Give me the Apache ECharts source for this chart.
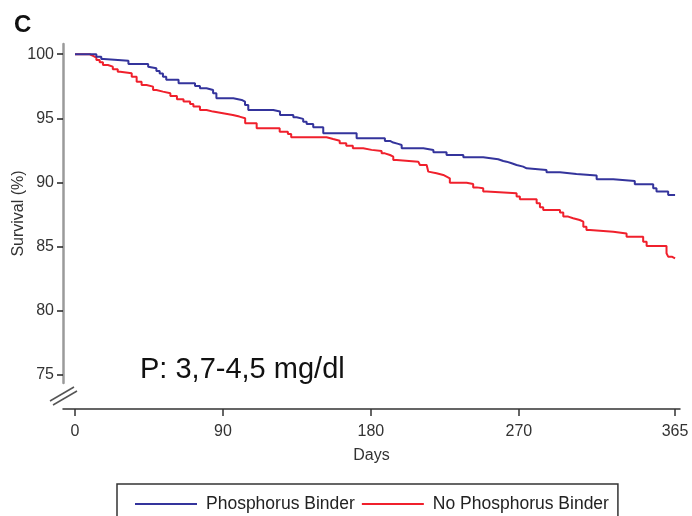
<!DOCTYPE html>
<html>
<head>
<meta charset="utf-8">
<script src="https://cdn.jsdelivr.net/npm/echarts@6/dist/echarts.min.js"></script>
<style>html,body{margin:0;padding:0;background:#fff}#c{width:692px;height:516px}</style>
</head>
<body>
<div id="c"></div>
<script>
var FONT = '"Liberation Sans", Arial, sans-serif';
var xTicks = [0, 90, 180, 270, 365];
var yTicks = [75, 80, 85, 90, 95, 100];
var seriesNames = ['Phosphorus Binder', 'No Phosphorus Binder'];

var binderDays = [0,13,16,17.5,32.5,44.5,45.5,49.5,51.5,53.5,55.5,63,73,76,80,84,86,96.3,101.4,103.4,105.4,120.6,124.7,132.8,134.8,138.8,140.9,144.9,151,171.3,188.5,191.6,193.6,196.6,198.7,211.9,218,226,236.2,248.3,257.4,260.5,262.5,265.6,268.6,272.6,274.7,286.8,295,305,317.3,327.4,340.5,351.7,353.7,360.8,365];
var binderSurv = [100,99.81,99.63,99.5,99.24,99.03,98.9,98.7,98.5,98.25,98.0,97.73,97.52,97.34,97.2,96.95,96.56,96.43,96.3,96.04,95.65,95.52,95.26,95.08,94.95,94.73,94.55,94.3,93.83,93.44,93.23,93.1,93.0,92.91,92.66,92.52,92.34,92.13,91.95,91.8,91.66,91.61,91.48,91.35,91.22,91.09,90.96,90.78,90.65,90.52,90.23,90.1,89.84,89.53,89.27,89.0,89.0];

var noBinderDays = [0,9,11,13,15,17,20,23,26,27.5,34.5,37.5,40.5,43.5,47.5,49.5,53.5,58,62,66,70,72,76,80,84,90,96,100,103.5,110.5,124.5,129.5,131.5,153,157,161,165,169,175.3,180.4,186.5,188.5,191.6,193.6,195.6,208.8,209.8,213.9,214.9,215.9,219.9,224,226,228,238.2,242.2,244.3,248.3,250.4,268.6,270.6,280.8,282.8,284.8,295,297,300,303,307,309.2,311.1,313.2,327.4,335.5,345.6,347.7,359.8,360.8,363,365];
var noBinderSurv = [100,99.87,99.73,99.55,99.37,99.16,99.03,98.83,98.64,98.52,98.25,97.86,97.6,97.47,97.21,97.08,96.95,96.74,96.48,96.3,96.12,95.91,95.65,95.52,95.39,95.26,95.13,95.0,94.61,94.22,93.95,93.77,93.52,93.38,93.25,93.05,92.86,92.66,92.53,92.45,92.26,92.13,92.0,91.74,91.61,91.53,91.35,91.22,90.83,90.7,90.57,90.44,90.31,89.97,89.87,89.6,89.53,89.27,89.14,88.88,88.67,88.36,88.05,87.84,87.63,87.32,87.19,87.05,86.92,86.53,86.27,86.14,86.0,85.75,85.36,85.02,84.45,84.19,84.05,84.0];

function pairs(xs, ys) { return xs.map(function (x, i) { return [x, ys[i]]; }); }

var chart = echarts.init(document.getElementById('c'), null, {renderer: 'canvas'});
chart.setOption({
  animation: false,
  backgroundColor: '#fff',
  textStyle: {fontFamily: FONT},
  title: {
    text: 'C', left: 9, top: 8,
    textStyle: {fontFamily: FONT, fontSize: 24, fontWeight: 'bold', color: '#111'}
  },
  grid: {left: 63, right: 12, top: 44, bottom: 133, containLabel: false, outerBoundsMode: 'none'},
  xAxis: {
    type: 'value', min: -7.3, max: 368, offset: 26,
    name: 'Days', nameLocation: 'middle', nameGap: 39, nameMoveOverlap: false,
    nameTextStyle: {fontFamily: FONT, fontSize: 16, color: '#333'},
    axisLine: {show: true, onZero: false, lineStyle: {color: '#333', width: 1.5}},
    axisTick: {show: true, customValues: xTicks, length: 7, lineStyle: {color: '#333', width: 1.5}},
    axisLabel: {customValues: xTicks, margin: 15, fontFamily: FONT, fontSize: 16, color: '#333'},
    splitLine: {show: false}
  },
  yAxis: {
    type: 'value', min: 74.32, max: 100.8,
    name: 'Survival (%)', nameLocation: 'middle', nameGap: 36, nameMoveOverlap: false,
    nameTextStyle: {fontFamily: FONT, fontSize: 16, color: '#333'},
    axisLine: {show: true, onZero: false, lineStyle: {color: '#9a9a9a', width: 2.5}},
    axisTick: {show: true, customValues: yTicks, length: 6, lineStyle: {color: '#222', width: 1.5}},
    axisLabel: {customValues: yTicks, margin: 9, fontFamily: FONT, fontSize: 16, color: '#333'},
    splitLine: {show: false}
  },
  legend: {
    data: seriesNames,
    left: 117, top: 484,
    orient: 'horizontal',
    icon: 'rect',
    itemWidth: 62, itemHeight: 2, itemGap: 7,
    padding: [11, 9, 25, 18],
    borderColor: '#333', borderWidth: 1.5,
    textStyle: {fontFamily: FONT, fontSize: 17.5, color: '#222', padding: [0, 0, 0, 4]}
  },
  graphic: [
    {type: 'line', shape: {x1: 50, y1: 401, x2: 74, y2: 387}, style: {stroke: '#555', lineWidth: 1.5}},
    {type: 'line', shape: {x1: 53, y1: 405, x2: 77, y2: 391}, style: {stroke: '#555', lineWidth: 1.5}},
    {type: 'text', left: 140, top: 355,
     style: {text: 'P: 3,7-4,5 mg/dl', font: '29px ' + FONT, fill: '#111'}}
  ],
  series: [
    {
      name: seriesNames[0], type: 'line', step: 'end', symbol: 'none', z: 3,
      color: '#34349c',
      lineStyle: {color: '#34349c', width: 2},
      data: pairs(binderDays, binderSurv)
    },
    {
      name: seriesNames[1], type: 'line', step: 'end', symbol: 'none', z: 2,
      color: '#f0202c',
      lineStyle: {color: '#f0202c', width: 2},
      data: pairs(noBinderDays, noBinderSurv)
    }
  ]
});
</script>
</body>
</html>
